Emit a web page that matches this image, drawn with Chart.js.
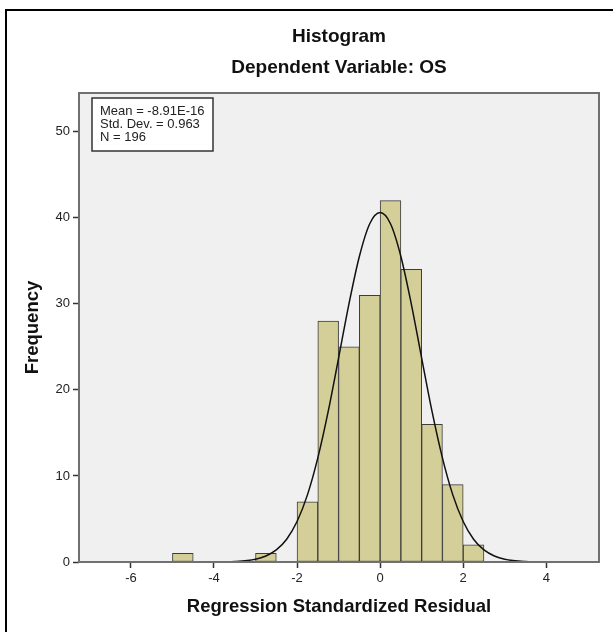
<!DOCTYPE html>
<html>
<head>
<meta charset="utf-8">
<script src="https://cdn.jsdelivr.net/npm/chart.js@4.4.1/dist/chart.umd.min.js"></script>
<style>
  html, body { margin: 0; padding: 0; background: #fff; overflow: hidden; }
  #wrap { position: relative; width: 613px; height: 632px; }
  #frame { position: absolute; left: 5px; top: 9px; width: 700px; height: 700px; border: 2px solid #000; }
  #histChart { position: absolute; left: 0; top: 0; }
</style>
</head>
<body>
<div id="wrap">
  <div id="frame"></div>
  <canvas id="histChart" width="613" height="632"></canvas>
</div>
<script>
// histogram bins (centre of each 0.5 wide bin) and counts
const binCenters = [-4.75, -2.75, -1.75, -1.25, -0.75, -0.25, 0.25, 0.75, 1.25, 1.75, 2.25];
const counts = [1, 1, 7, 28, 25, 31, 42, 34, 16, 9, 2];

// normal curve
const curveX = [-5, -4.5, -4, -3.5, -3, -2.75, -2.5, -2.25, -2, -1.75, -1.5, -1.25, -1, -0.75, -0.5, -0.25, 0,
                0.25, 0.5, 0.75, 1, 1.25, 1.5, 1.75, 2, 2.25, 2.5, 2.75, 3, 3.5, 4, 4.5, 5];
const curveY = [0, 0, 0.01, 0.06, 0.32, 0.7, 1.4, 2.65, 4.7, 7.8, 12.1, 17.5, 23.7, 30.0, 35.5, 39.3, 40.6,
                39.3, 35.5, 30.0, 23.7, 17.5, 12.1, 7.8, 4.7, 2.65, 1.4, 0.7, 0.32, 0.06, 0.01, 0, 0];

const xTicks = [-6, -4, -2, 0, 2, 4];
const yTicks = [0, 10, 20, 30, 40, 50];

const titleLines = ['Histogram', 'Dependent Variable: OS'];
const statLines = ['Mean = -8.91E-16', 'Std. Dev. = 0.963', 'N = 196'];

const FONT = '"Liberation Sans", Arial, sans-serif';

const plotDecor = {
    id: 'plotDecor',
    beforeDraw(chart) {
        const {ctx, chartArea: a} = chart;
        ctx.save();
        ctx.fillStyle = '#f0f0f0';
        ctx.fillRect(a.left, a.top, a.right - a.left, a.bottom - a.top);
        ctx.restore();
    },
    afterDraw(chart) {
        const {ctx, chartArea: a} = chart;
        ctx.save();
        // plot frame
        ctx.strokeStyle = '#707070';
        ctx.lineWidth = 2;
        ctx.strokeRect(a.left, a.top, a.right - a.left, a.bottom - a.top);

        // titles
        const cx = (a.left + a.right) / 2;
        ctx.fillStyle = '#111';
        ctx.textAlign = 'center';
        ctx.textBaseline = 'middle';
        ctx.font = 'bold 19px ' + FONT;
        ctx.fillText(titleLines[0], cx, 37);
        ctx.fillText(titleLines[1], cx, 68);

        // stats box
        const bx = a.left + 13, by = a.top + 5, bw = 121, bh = 53;
        ctx.fillStyle = '#fff';
        ctx.fillRect(bx, by, bw, bh);
        ctx.strokeStyle = '#333';
        ctx.lineWidth = 1.5;
        ctx.strokeRect(bx, by, bw, bh);
        ctx.fillStyle = '#222';
        ctx.textAlign = 'left';
        ctx.font = '13px ' + FONT;
        statLines.forEach((s, i) => ctx.fillText(s, bx + 8, by + 13 + i * 13));
        ctx.restore();
    }
};

const ctx = document.getElementById('histChart').getContext('2d');
new Chart(ctx, {
    type: 'bar',
    data: {
        datasets: [{
            type: 'line',
            data: curveX.map((x, i) => ({x: x, y: curveY[i]})),
            borderColor: '#111',
            borderWidth: 1.5,
            pointRadius: 0,
            cubicInterpolationMode: 'monotone',
            fill: false,
            order: 0
        }, {
            type: 'bar',
            data: binCenters.map((x, i) => ({x: x, y: counts[i]})),
            backgroundColor: '#d4cf98',
            borderColor: '#3c3c3c',
            borderWidth: 1,
            borderSkipped: false,
            barPercentage: 1,
            categoryPercentage: 1,
            order: 1
        }]
    },
    options: {
        responsive: false,
        animation: false,
        layout: { padding: { top: 93, right: 14, left: 0, bottom: 0 } },
        plugins: { legend: { display: false }, tooltip: { enabled: false }, title: { display: false } },
        scales: {
            x: {
                type: 'linear',
                min: -7.25,
                max: 5.27,
                offset: false,
                afterBuildTicks: (s) => { s.ticks = xTicks.map(v => ({value: v})); },
                afterFit: (s) => { s.height = 70; },
                grid: { drawOnChartArea: false, offset: false, tickLength: 6, tickColor: '#333', tickWidth: 1.5 },
                border: { display: false },
                ticks: { color: '#222', font: { family: FONT, size: 13 }, padding: 3, maxRotation: 0 },
                title: {
                    display: true,
                    text: 'Regression Standardized Residual',
                    color: '#111',
                    font: { family: FONT, size: 18.5, weight: 'bold' },
                    padding: { top: 0, bottom: 14 }
                }
            },
            y: {
                min: 0,
                max: 54.5,
                afterBuildTicks: (s) => { s.ticks = yTicks.map(v => ({value: v})); },
                afterFit: (s) => { s.width = 79; },
                grid: { drawOnChartArea: false, tickLength: 6, tickColor: '#333', tickWidth: 1.5 },
                border: { display: false },
                ticks: { color: '#222', font: { family: FONT, size: 13 }, padding: 3 },
                title: {
                    display: true,
                    text: 'Frequency',
                    color: '#111',
                    font: { family: FONT, size: 18.5, weight: 'bold' },
                    padding: { top: 22, bottom: 0 }
                }
            }
        }
    },
    plugins: [plotDecor]
});
</script>
</body>
</html>
